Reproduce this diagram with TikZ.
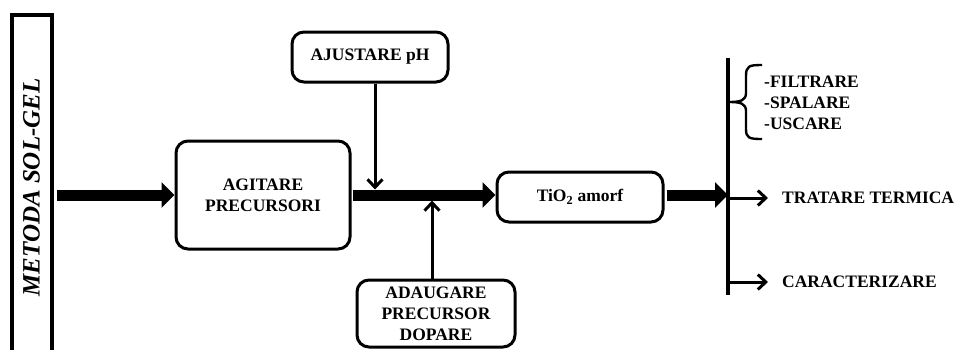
\documentclass[tikz,border=0pt]{standalone}
\usepackage{fontspec}
\setmainfont{Liberation Serif}
\usetikzlibrary{arrows.meta}
\begin{document}
\begin{tikzpicture}[x=1pt,y=-1pt,
  box/.style={draw,line width=3pt,rounded corners=12pt,align=center,inner sep=0pt,
    font=\fontsize{17.5}{21}\selectfont\bfseries},
  heavy/.style={line width=11pt,-{Triangle[length=13pt,width=25pt]}},
  thinarrow/.style={line width=3pt,-{Straight Barb[length=8pt,width=15pt,line width=3pt]}},
  lbl/.style={font=\fontsize{17.5}{21}\selectfont\bfseries,inner sep=0pt,align=left}]
\useasboundingbox (0,0) rectangle (956,349);
% left vertical box
\node[draw,line width=4pt,rotate=90,minimum width=345pt,minimum height=40pt,inner sep=0pt,
  font=\fontsize{25}{28}\selectfont\bfseries\itshape] (metoda) at (31.5,187.5) {METODA SOL-GEL};
% boxes
\node[box,minimum width=174pt,minimum height=108pt] (agitare) at (263,195) {AGITARE\\PRECURSORI};
\node[box,minimum width=156pt,minimum height=50pt] (ajustare) at (370,57) {AJUSTARE pH};
\node[box,minimum width=158pt,minimum height=67pt] (adaugare) at (436,313.5) {ADAUGARE\\PRECURSOR\\DOPARE};
\node[box,minimum width=166pt,minimum height=50pt] (tio2) at (580,197) {TiO\textsubscript{2} amorf};
% vertical bar
\coordinate (bartop) at (728,58);
\coordinate (barbot) at (728,295);
\draw[line width=4.5pt] (bartop) -- (barbot);
% main heavy arrows
\draw[heavy,shorten <=3pt] (metoda.south |- agitare.west) -- (agitare.west);
\draw[heavy,shorten <=1pt] (agitare.east) -- (tio2.west |- agitare.east);
\draw[heavy,shorten <=2pt] (tio2.east |- agitare.east) -- (bartop |- agitare.east);
% side inputs
\coordinate (jA) at (375,189.5);
\coordinate (jB) at (432,200.5);
\draw[thinarrow] (ajustare.south -| jA) -- (jA);
\draw[thinarrow] (adaugare.north -| jB) -- (jB);
% right outputs
\node[lbl,anchor=west] (tratare) at (782,198) {TRATARE TERMICA};
\node[lbl,anchor=west] (caract) at (782,282) {CARACTERIZARE};
\draw[thinarrow] (bartop |- tratare.west) -- ++(40,0) coordinate (tA);
\draw[thinarrow] (bartop |- caract.west) -- ++(40,0) coordinate (tB);
% list with brace
\node[lbl,anchor=west] (list) at (764,103) {-FILTRARE\\-SPALARE\\-USCARE};
\draw[line width=2.4pt,line join=round]
  (762,65) .. controls (749,65) and (746,66) .. (746,76) -- (746,93)
  .. controls (746,100) and (741,102) .. (730,102)
  .. controls (741,102) and (746,104) .. (746,111) -- (746,129)
  .. controls (746,138) and (749,139) .. (762,139);
\end{tikzpicture}
\end{document}
